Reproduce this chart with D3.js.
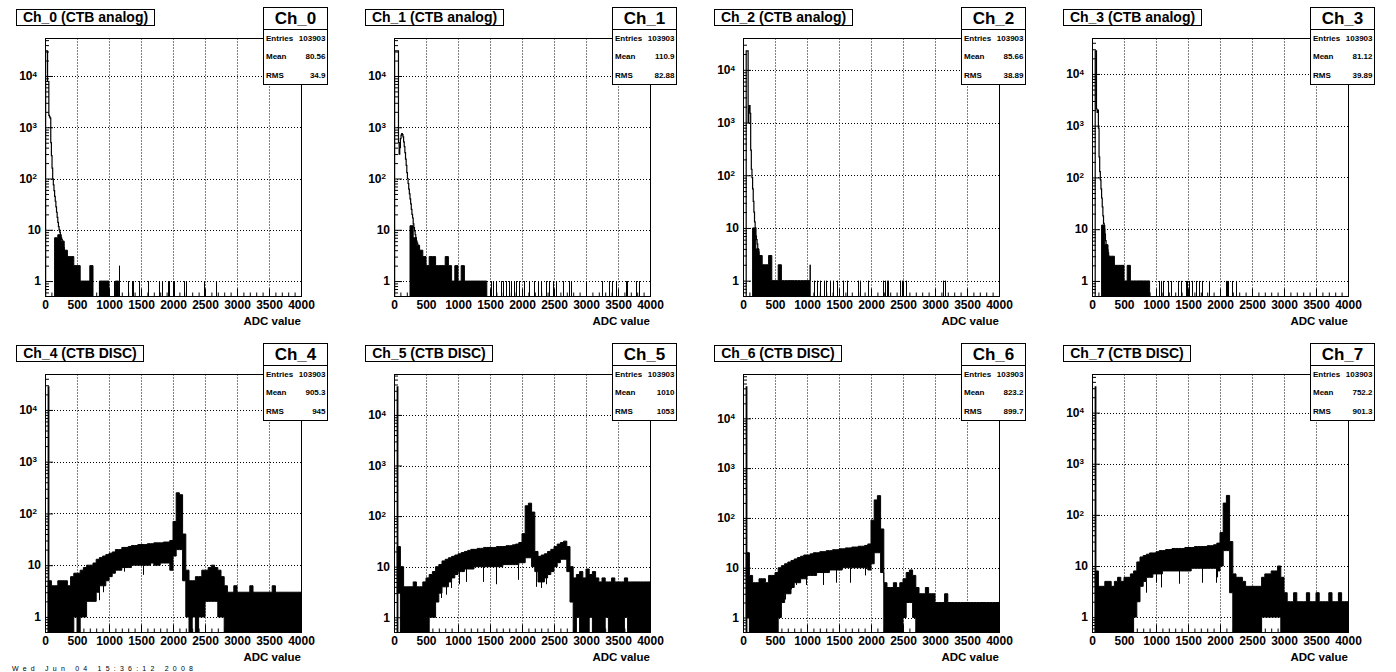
<!DOCTYPE html>
<html>
<head>
<meta charset="utf-8">
<script src="https://cdn.jsdelivr.net/npm/d3@7"></script>
<style>
  body { margin: 0; background: #fff; }
  svg { display: block; font-family: "Liberation Sans", Arial, Helvetica, sans-serif; font-weight: bold; }
</style>
</head>
<body>
<svg id="canvas" width="1396" height="672"></svg>
<script>
// ---- data ----
const chanNames = ['Ch_0', 'Ch_1', 'Ch_2', 'Ch_3', 'Ch_4', 'Ch_5', 'Ch_6', 'Ch_7'];
const chanKinds = ['CTB analog', 'CTB analog', 'CTB analog', 'CTB analog', 'CTB DISC', 'CTB DISC', 'CTB DISC', 'CTB DISC'];
const entries = [103903, 103903, 103903, 103903, 103903, 103903, 103903, 103903];
const means = ['80.56', '110.9', '85.66', '81.12', '905.3', '1010', '823.2', '752.2'];
const rmsVals = ['34.9', '82.88', '38.89', '39.89', '945', '1053', '899.7', '901.3'];
const xTicks = [0, 500, 1000, 1500, 2000, 2500, 3000, 3500, 4000];
const yDecades = [1, 10, 100, 1000, 10000];

// head: counts in 10-ADC bins from ADC 0 (pedestal and steep part)
const head0 = [0, 31000, 31000, 31000, 7800, 7800, 1700, 1600, 1500, 500, 280, 160, 98, 75, 58, 45, 36, 28, 22, 17.5, 14, 11.5, 10, 9, 8, 7, 6.5, 6, 5, 4.5];
const head1 = [0, 31000, 31000, 31000, 31000, 31000, 31000, 500, 300, 400, 600, 700, 750, 720, 650, 520, 420, 320, 240, 180, 130, 100, 80, 62, 50, 40, 32, 25, 20, 17, 13, 11, 9.5, 8, 7, 6, 5.5, 5, 4.5, 4, 3.5, 3, 3, 2.5, 2];
const head2 = [0, 0, 0, 0, 0, 23000, 23000, 23000, 1000, 1800, 2100, 1500, 300, 130, 90, 55, 32, 20, 13, 10, 7, 6, 5, 4, 3.5, 3];
const head3 = [0, 0, 0, 0, 0, 28000, 28000, 2100, 1800, 2000, 900, 250, 130, 90, 60, 40, 27, 18, 13, 10, 8, 6, 5, 4.5, 4, 3.5, 3];
const head4 = [0, 0, 0, 0, 0, 28000];
const head5 = [0, 0, 0, 0, 0, 36000];
const head6 = [0, 0, 0, 0, 0, 43000];
const head7 = [0, 0, 0, 0, 0, 32000];

// band: upper / lower count envelope per 50-ADC cell (0..4000)
const hi0 = [0, 0, 0, 7, 8, 6, 4, 3, 3, 2, 2, 1, 1, 1, 2, 1, 0, 1, 1, 1, 1, 0, 1, 1, 0, 0, 0, 0, 0, 0, 0, 0, 0, 0, 0, 0, 0, 0, 0, 0, 0, 0, 0, 0, 0, 0, 0, 0, 0, 0, 0, 0, 0, 0, 0, 0, 0, 0, 0, 0, 0, 0, 0, 0, 0, 0, 0, 0, 0, 0, 0, 0, 0, 0, 0, 0, 0, 0, 0, 0];
const hi1 = [0, 0, 0, 0, 0, 12, 7, 5, 4, 3, 2, 3, 3, 2, 2, 2, 3, 2, 1, 2, 1, 2, 1, 1, 1, 1, 1, 1, 1, 1, 0, 0, 0, 0, 0, 0, 0, 0, 0, 0, 0, 0, 0, 0, 0, 0, 0, 0, 0, 0, 0, 0, 0, 0, 0, 0, 0, 0, 0, 0, 0, 0, 0, 0, 0, 0, 0, 0, 0, 0, 0, 0, 0, 0, 0, 0, 0, 0, 0, 0];
const hi2 = [0, 0, 0, 10, 4, 3, 2, 2, 3, 1, 1, 2, 1, 1, 1, 1, 1, 1, 1, 1, 1, 2, 0, 0, 0, 0, 0, 0, 0, 0, 0, 0, 0, 0, 0, 0, 0, 0, 0, 0, 0, 0, 0, 0, 0, 0, 0, 0, 0, 0, 0, 0, 0, 0, 0, 0, 0, 0, 0, 0, 0, 0, 0, 0, 0, 0, 0, 0, 0, 0, 0, 0, 0, 0, 0, 0, 0, 0, 0, 0];
const hi3 = [0, 0, 0, 12, 5, 3, 3, 2, 2, 2, 1, 2, 1, 1, 1, 1, 1, 1, 1, 0, 0, 0, 0, 0, 0, 0, 0, 0, 0, 0, 0, 0, 0, 0, 0, 0, 0, 0, 0, 0, 0, 0, 0, 0, 0, 0, 0, 0, 0, 0, 0, 0, 0, 0, 0, 0, 0, 0, 0, 0, 0, 0, 0, 0, 0, 0, 0, 0, 0, 0, 0, 0, 0, 0, 0, 0, 0, 0, 0, 0];
const hi4 = [0, 5, 4, 4, 5, 5, 5, 4, 6, 7, 7, 8, 9, 10, 10, 11, 13, 14, 15, 16, 17, 18, 20, 20, 22, 22, 23, 24, 24, 25, 25, 25, 26, 26, 27, 27, 27, 28, 28, 30, 70, 250, 230, 40, 8, 5, 5, 6, 6, 8, 8, 9, 10, 9, 8, 6, 4, 3, 3, 4, 3, 3, 3, 3, 4, 3, 3, 3, 3, 3, 3, 4, 3, 3, 3, 3, 3, 3, 3, 3];
const lo4 = [0, 0, 0, 0, 0, 0, 0, 0, 0, 1, 0, 1, 1, 2, 2, 2, 3, 4, 4, 5, 6, 7, 8, 8, 9, 9, 9, 10, 10, 10, 10, 10, 10, 11, 10, 10, 11, 11, 11, 8, 15, 20, 20, 5, 1, 0, 1, 0, 1, 1, 2, 2, 2, 2, 1, 1, 0, 0, 0, 0, 0, 0, 0, 0, 0, 0, 0, 0, 0, 0, 0, 0, 0, 0, 0, 0, 0, 0, 0, 0];
const hi5 = [0, 25, 10, 4, 4, 4, 5, 4, 4, 5, 6, 7, 8, 10, 11, 13, 14, 15, 16, 17, 18, 19, 20, 21, 22, 22, 23, 23, 24, 24, 24, 24, 25, 25, 25, 26, 26, 27, 28, 30, 45, 160, 180, 120, 20, 16, 17, 18, 20, 22, 25, 28, 30, 32, 25, 10, 6, 7, 8, 6, 9, 7, 8, 6, 5, 6, 5, 5, 6, 5, 5, 5, 6, 5, 5, 5, 5, 5, 5, 5];
const lo5 = [0, 3, 0, 0, 0, 0, 0, 0, 0, 0, 0, 1, 1, 2, 3, 4, 4, 5, 6, 7, 8, 8, 9, 9, 9, 10, 10, 10, 10, 10, 10, 10, 10, 10, 11, 11, 11, 11, 11, 12, 12, 15, 15, 10, 8, 5, 5, 6, 7, 8, 10, 12, 14, 14, 8, 2, 0, 1, 0, 0, 0, 1, 0, 0, 0, 0, 1, 0, 0, 0, 0, 0, 1, 0, 0, 0, 0, 0, 0, 0];
const hi6 = [0, 20, 7, 5, 5, 6, 6, 5, 7, 7, 8, 10, 11, 12, 13, 14, 15, 16, 17, 18, 18, 19, 20, 20, 21, 21, 22, 22, 23, 23, 24, 24, 25, 25, 26, 26, 27, 27, 28, 30, 90, 230, 280, 60, 5, 4, 4, 5, 4, 5, 6, 8, 9, 7, 4, 3, 3, 4, 3, 3, 2, 2, 2, 3, 2, 2, 2, 2, 2, 2, 2, 2, 2, 2, 2, 2, 2, 2, 2, 2];
const lo6 = [0, 1, 0, 0, 0, 0, 0, 0, 0, 0, 0, 1, 2, 3, 3, 4, 5, 5, 6, 6, 7, 7, 7, 8, 8, 8, 8, 9, 9, 9, 9, 10, 10, 10, 10, 10, 10, 10, 10, 9, 12, 20, 20, 8, 0, 0, 0, 0, 0, 0, 1, 2, 2, 1, 0, 0, 0, 0, 0, 0, 0, 0, 0, 0, 0, 0, 0, 0, 0, 0, 0, 0, 0, 0, 0, 0, 0, 0, 0, 0];
const hi7 = [0, 8, 4, 4, 5, 5, 4, 5, 6, 5, 6, 6, 7, 8, 12, 15, 16, 17, 18, 18, 19, 20, 20, 21, 21, 22, 22, 22, 22, 23, 23, 23, 24, 24, 24, 24, 25, 25, 26, 28, 45, 170, 240, 30, 7, 6, 6, 5, 4, 4, 4, 4, 4, 6, 7, 7, 8, 8, 10, 6, 3, 2, 2, 3, 2, 2, 2, 3, 2, 2, 3, 2, 2, 2, 3, 2, 2, 3, 2, 2];
const lo7 = [0, 0, 0, 0, 0, 0, 0, 0, 0, 0, 0, 0, 0, 1, 2, 4, 5, 6, 6, 7, 7, 7, 8, 8, 8, 8, 8, 8, 8, 8, 8, 9, 9, 9, 9, 9, 9, 9, 9, 8, 10, 20, 20, 3, 0, 0, 0, 0, 0, 0, 0, 0, 0, 1, 1, 1, 1, 1, 1, 0, 0, 0, 0, 0, 0, 0, 0, 0, 0, 0, 0, 0, 0, 0, 0, 0, 0, 0, 0, 0];

// single low bins dipping under the DISC bands: [ADC, count]
const dips4 = [[850, 2.1], [900, 3], [980, 5], [1085, 8], [1240, 7.5], [1527, 6.5], [1890, 13], [1943, 13]];
const dips5 = [[738, 2.4], [815, 2.8], [894, 3.8], [1023, 4.5], [1127, 5], [1387, 5], [1595, 4.5], [1932, 5.5], [2218, 4], [2296, 3.8], [2374, 4.5]];
const dips6 = [[651, 2.3], [755, 3.7], [833, 4.5], [990, 4.5], [1250, 4.5], [1458, 5], [1666, 5], [1900, 7]];
const dips7 = [[842, 3], [997, 4.7], [1075, 3.8], [1361, 4.5], [1725, 4.7], [1933, 4.7], [1958, 6]];

// isolated single entries in the analog tails: [ADC, count]
const spikes0 = [[845, 1], [1075, 1], [1162, 2], [1292, 1], [1360, 1], [1381, 1], [1474, 1], [1604, 1], [1787, 1], [1823, 1], [1917, 1], [1943, 1], [1995, 1], [2021, 1], [2178, 1], [2204, 1], [2490, 1], [2673, 1]];
const spikes1 = [[1517, 1], [1543, 1], [1595, 1], [1673, 1], [1699, 1], [1751, 1], [1803, 1], [1829, 1], [1881, 1], [1907, 1], [1959, 1], [2036, 1], [2114, 1], [2192, 1], [2244, 1], [2296, 1], [2374, 1], [2426, 1], [2478, 1], [2530, 1], [2634, 1], [2738, 1], [2764, 1], [2997, 1], [3257, 1], [3361, 1], [3413, 1], [3465, 1], [3621, 1], [3647, 1], [3777, 1], [3829, 1]];
const spikes2 = [[1102, 1], [1154, 1], [1206, 1], [1258, 1], [1300, 1], [1362, 1], [1414, 1], [1466, 1], [1570, 1], [1622, 1], [1804, 1], [1830, 1], [1960, 1], [2194, 1], [2220, 1], [2246, 1], [2272, 1], [2454, 1], [2480, 1], [2506, 1], [2548, 1], [3130, 1], [3156, 1]];
const spikes3 = [[1050, 1], [1076, 1], [1113, 1], [1180, 1], [1232, 1], [1336, 1], [1388, 1], [1466, 1], [1492, 1], [1518, 1], [1570, 1], [1622, 1], [1674, 1], [1716, 1], [1830, 1], [2090, 1], [2116, 1], [2132, 1], [2194, 1], [2246, 1]];

const heads = [head0, head1, head2, head3, head4, head5, head6, head7];
const his = [hi0, hi1, hi2, hi3, hi4, hi5, hi6, hi7];
const zeros = hi0.map(() => 0);
const los = [zeros, zeros, zeros, zeros, lo4, lo5, lo6, lo7];
const dipSets = [[], [], [], [], dips4, dips5, dips6, dips7];
const spikeSets = [spikes0, spikes1, spikes2, spikes3, [], [], [], []];

// ---- layout ----
const padW = 349, padH = 336;
const fr = { l: 45, r: 301, t: 38.5, b: 296.5 };
const svg = d3.select('#canvas');
svg.append('rect').attr('width', 1396).attr('height', 672).attr('fill', '#fff');

function drawPad(i) {
  const col = i % 4, row = Math.floor(i / 4);
  const g = svg.append('g').attr('transform', `translate(${col * padW},${row * padH})`);
  const head = heads[i], hi = his[i], lo = los[i];

  // ROOT style log range: 0.5 up to peak plus 5% margin
  const lmin = Math.log10(0.5), lp = Math.log10(d3.max(head));
  const lmax = lp + 0.05 * (lp - lmin);
  const x = d3.scaleLinear().domain([0, 4000]).range([fr.l, fr.r]);
  const y = d3.scaleLog().domain([0.5, Math.pow(10, lmax)]).range([fr.b, fr.t]);
  const yv = v => (v > 0.5 ? y(v) : fr.b);

  const clipId = 'clip' + i;
  g.append('clipPath').attr('id', clipId).append('rect')
    .attr('x', fr.l).attr('y', fr.t).attr('width', fr.r - fr.l + 1).attr('height', fr.b - fr.t);

  // grid
  const grid = g.append('g').attr('stroke', '#000').attr('stroke-dasharray', '1,2').attr('stroke-width', 1);
  grid.selectAll('line.gx').data(xTicks.filter(v => v > 0 && v < 4000)).join('line')
    .attr('x1', d => Math.round(x(d)) + 0.5).attr('x2', d => Math.round(x(d)) + 0.5)
    .attr('y1', fr.t).attr('y2', fr.b);
  grid.selectAll('line.gy').data(yDecades.filter(v => y(v) > fr.t)).join('line')
    .attr('y1', d => Math.round(y(d)) + 0.5).attr('y2', d => Math.round(y(d)) + 0.5)
    .attr('x1', fr.l).attr('x2', fr.r);

  const plot = g.append('g').attr('clip-path', `url(#${clipId})`);

  // noisy band: step area between lower and upper envelope, outlined like a ROOT histogram
  const cells = hi.map((h, k) => ({ a: k * 50, h, l: lo[k] }));
  cells.push({ a: 4000, h: hi[hi.length - 1], l: lo[lo.length - 1] });
  const band = d3.area().x(c => x(c.a)).y0(c => yv(c.l)).y1(c => yv(c.h))
    .defined(c => c.h > 0).curve(d3.curveStepAfter);
  plot.append('path').attr('d', band(cells))
    .attr('fill', '#000').attr('stroke', '#000').attr('stroke-width', 1).attr('stroke-linejoin', 'miter');

  // low bins reaching under the band
  plot.selectAll('line.dip').data(dipSets[i]).join('line')
    .attr('x1', d => Math.round(x(d[0])) + 0.5).attr('x2', d => Math.round(x(d[0])) + 0.5)
    .attr('y1', d => yv(lo[Math.min(79, Math.floor(d[0] / 50))])).attr('y2', d => y(d[1]))
    .attr('stroke', '#000').attr('stroke-width', 1);

  // head outline (step histogram)
  const pts = [[0, 0]].concat(head.map((v, k) => [k * 10, v]), [[head.length * 10, head[head.length - 1]], [head.length * 10, 0]]);
  const line = d3.line().x(d => x(d[0])).y(d => yv(d[1])).curve(d3.curveStepAfter);
  plot.append('path').attr('d', line(pts)).attr('fill', 'none').attr('stroke', '#000').attr('stroke-width', 1.2);

  // isolated entries
  plot.selectAll('line.sp').data(spikeSets[i]).join('line')
    .attr('x1', d => Math.round(x(d[0])) + 0.5).attr('x2', d => Math.round(x(d[0])) + 0.5)
    .attr('y1', fr.b).attr('y2', d => y(d[1]))
    .attr('stroke', '#000').attr('stroke-width', 1);

  // axes
  const xAxis = g.append('g').attr('transform', `translate(0,${fr.b})`)
    .call(d3.axisBottom(x).tickValues(xTicks).tickSize(-8).tickPadding(4).tickFormat(d3.format('d')));
  g.append('g').attr('transform', `translate(0,${fr.b})`)
    .call(d3.axisBottom(x).tickValues(d3.range(100, 4000, 100).filter(v => v % 500)).tickSize(-4).tickFormat(''));
  g.append('g').attr('transform', `translate(${fr.l},0)`)
    .call(d3.axisLeft(y).tickValues(yDecades.filter(v => y(v) > fr.t)).tickSize(-8).tickFormat(''));
  const minors = [];
  for (let e = -1; e <= 5; e++) for (let m = 2; m <= 9; m++) {
    const v = m * Math.pow(10, e);
    if (v > 0.5 && y(v) > fr.t) minors.push(v);
  }
  g.append('g').attr('transform', `translate(${fr.l},0)`)
    .call(d3.axisLeft(y).tickValues(minors).tickSize(-4).tickFormat(''));
  g.selectAll('.domain').remove();
  g.selectAll('.tick line').attr('stroke', '#000');
  xAxis.selectAll('text').attr('font-size', 12).attr('font-weight', 'bold')
    .attr('font-family', '"Liberation Sans", Arial, sans-serif').attr('fill', '#000');

  // y labels: 1, 10, 10^2 ...
  yDecades.filter(v => y(v) > fr.t).forEach(v => {
    const e = Math.round(Math.log10(v));
    const t = g.append('text').attr('y', y(v)).attr('dy', '0.36em')
      .attr('text-anchor', 'end').attr('font-size', 12);
    if (e < 2) {
      t.attr('x', fr.l - 4).text(String(v));
    } else {
      t.attr('x', fr.l - 8).text('10');
      t.append('tspan').attr('dy', '-0.45em').attr('font-size', 8).text(e);
    }
  });

  // frame
  g.append('rect').attr('x', fr.l + 0.5).attr('y', fr.t).attr('width', fr.r - fr.l)
    .attr('height', fr.b - fr.t).attr('fill', 'none').attr('stroke', '#000');

  // axis title
  g.append('text').attr('x', fr.r).attr('y', 325).attr('text-anchor', 'end')
    .attr('font-size', 11.5).text('ADC value');

  // title box
  const tbox = g.append('rect').attr('x', 16.5).attr('y', 9.5).attr('height', 16)
    .attr('fill', '#fff').attr('stroke', '#000');
  const title = g.append('text').attr('y', 21.5).attr('font-size', 14).attr('text-anchor', 'middle')
    .text(`${chanNames[i]} (${chanKinds[i]})`);
  const bw = Math.round(title.node().getComputedTextLength() + 13);
  tbox.attr('width', bw);
  title.attr('x', 16.5 + bw / 2);

  // stats box
  const sb = g.append('g');
  sb.append('rect').attr('x', 263.5).attr('y', 7.5).attr('width', 64).attr('height', 77)
    .attr('fill', '#fff').attr('stroke', '#000');
  sb.append('line').attr('x1', 263.5).attr('x2', 327.5).attr('y1', 29.5).attr('y2', 29.5).attr('stroke', '#000');
  sb.append('text').attr('x', 295.5).attr('y', 24).attr('text-anchor', 'middle')
    .attr('font-size', 17).text(chanNames[i]);
  const rows = [['Entries', entries[i]], ['Mean', means[i]], ['RMS', rmsVals[i]]];
  const rowY = [40.5, 58.5, 78];
  rows.forEach((r, k) => {
    sb.append('text').attr('x', 266).attr('y', rowY[k]).attr('font-size', 8).text(r[0]);
    sb.append('text').attr('x', 325.5).attr('y', rowY[k]).attr('font-size', 8)
      .attr('text-anchor', 'end').text(r[1]);
  });
}

d3.range(8).forEach(drawPad);

// print date at the canvas bottom edge
svg.append('text').attr('x', 12).attr('y', 671).attr('font-size', 7).attr('font-weight', 'normal')
  .attr('textLength', 181).attr('lengthAdjust', 'spacing')
  .text('Wed Jun 04 15:36:12 2008');
</script>
</body>
</html>
